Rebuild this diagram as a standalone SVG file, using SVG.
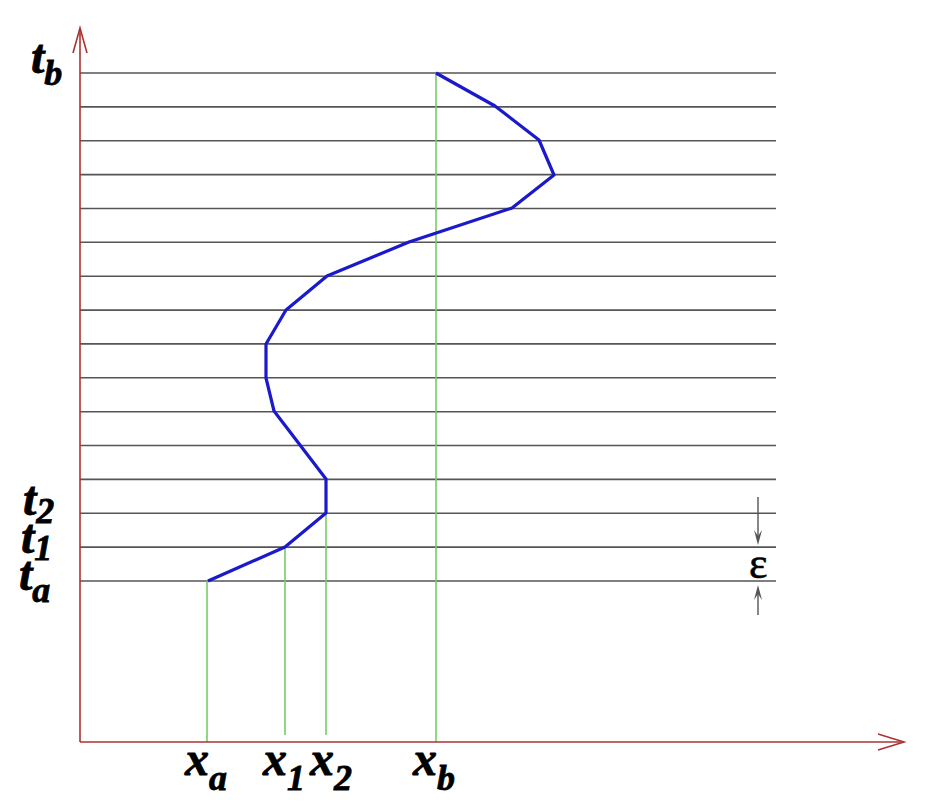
<svg xmlns="http://www.w3.org/2000/svg" width="940" height="806" viewBox="0 0 940 806">
<style>
.grid line{stroke:#555;stroke-width:1.6}
.axis{stroke:#a33;stroke-width:1.6;fill:none}
.green{stroke:#77cc66;stroke-width:1.6}
.lbl{font-family:"Liberation Serif","Times New Roman",serif;font-weight:bold;font-style:italic;font-size:48px;fill:#000;stroke:#000;stroke-width:0.8}
.sub{font-size:36px}
.eps{font-family:"Liberation Serif","Times New Roman",serif;font-size:44px;fill:#000;stroke:#000;stroke-width:0.6}
.dim{stroke:#555;stroke-width:1.4;fill:none}
</style>
<rect width="940" height="806" fill="#fff"/>
<g id="grid" class="grid">
<line x1="80" y1="73" x2="776" y2="73"/>
<line x1="80" y1="106.9" x2="776" y2="106.9"/>
<line x1="80" y1="140.7" x2="776" y2="140.7"/>
<line x1="80" y1="174.6" x2="776" y2="174.6"/>
<line x1="80" y1="208.5" x2="776" y2="208.5"/>
<line x1="80" y1="242.3" x2="776" y2="242.3"/>
<line x1="80" y1="276.2" x2="776" y2="276.2"/>
<line x1="80" y1="310.1" x2="776" y2="310.1"/>
<line x1="80" y1="343.9" x2="776" y2="343.9"/>
<line x1="80" y1="377.8" x2="776" y2="377.8"/>
<line x1="80" y1="411.7" x2="776" y2="411.7"/>
<line x1="80" y1="445.5" x2="776" y2="445.5"/>
<line x1="80" y1="479.4" x2="776" y2="479.4"/>
<line x1="80" y1="513.3" x2="776" y2="513.3"/>
<line x1="80" y1="547.1" x2="776" y2="547.1"/>
<line x1="80" y1="581" x2="776" y2="581"/>
</g>
<g id="connectors">
<line class="green" x1="207" y1="581" x2="207" y2="742"/>
<line class="green" x1="285" y1="547" x2="285" y2="735"/>
<line class="green" x1="326" y1="513" x2="326" y2="735"/>
<line class="green" x1="436" y1="73" x2="436" y2="742"/>
<polyline fill="none" stroke="#1a1acc" stroke-width="3.2" stroke-linejoin="round" points="208,581 285,547 326,513 326,479 274,411 266,378 266,344 286,310 327,276 409,242 512,208 554,175 539,140 495,106 436,73"/>
<polyline class="axis" points="80,742 80,28"/>
<polyline class="axis" points="73,53 80,28 87,53"/>
<polyline class="axis" points="80,742 904,742"/>
<polyline class="axis" points="878,734 904,742 878,750"/>
<line class="dim" x1="758" y1="497" x2="758" y2="540"/>
<path d="M754,530 L758,545 L762,530 L758,536 Z" fill="#555"/>
<line class="dim" x1="758" y1="590" x2="758" y2="615"/>
<path d="M754,600 L758,585 L762,600 L758,594 Z" fill="#555"/>
</g>
<g id="labels">
<text class="lbl" x="31" y="73">t<tspan class="sub" dy="12">b</tspan></text>
<text class="lbl" x="23" y="515">t<tspan class="sub" dy="8">2</tspan></text>
<text class="lbl" x="21" y="553">t<tspan class="sub" dy="7">1</tspan></text>
<text class="lbl" x="19" y="590">t<tspan class="sub" dy="12">a</tspan></text>
<text class="lbl" x="185" y="775">x<tspan class="sub" dy="15">a</tspan></text>
<text class="lbl" x="263" y="775">x<tspan class="sub" dy="15">1</tspan></text>
<text class="lbl" x="310" y="775">x<tspan class="sub" dy="15">2</tspan></text>
<text class="lbl" x="413" y="775">x<tspan class="sub" dy="15">b</tspan></text>
<text class="eps" x="749" y="578">ε</text>
</g>
</svg>
